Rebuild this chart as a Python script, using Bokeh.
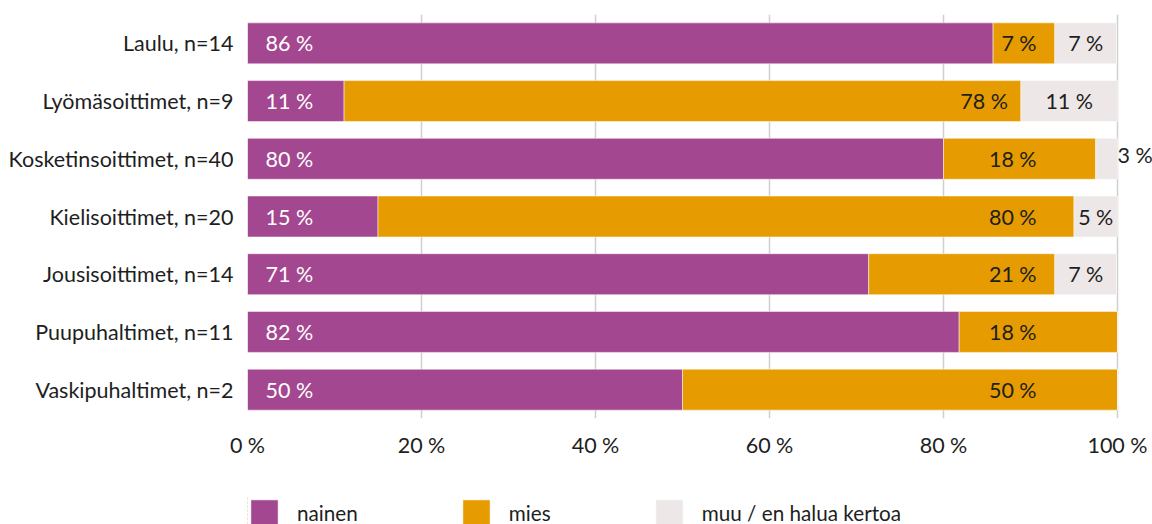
import numpy as np
from bokeh.plotting import figure
from bokeh.layouts import column
from bokeh.models import (ColumnDataSource, FactorRange, Range1d, FixedTicker,
                          LabelSet, Legend, LegendItem)
from bokeh.core.properties import value
from bokeh.embed import file_html
from bokeh.resources import INLINE

# ---------------- data ----------------
categories = ["Laulu, n=14", "Lyömäsoittimet, n=9", "Kosketinsoittimet, n=40",
              "Kielisoittimet, n=20", "Jousisoittimet, n=14", "Puupuhaltimet, n=11",
              "Vaskipuhaltimet, n=2"]
nainen = [85.7, 11.1, 80.0, 15.0, 71.4, 81.8, 50.0]
mies = [7.1, 77.8, 17.5, 80.0, 21.4, 18.2, 50.0]
muu = [7.1, 11.1, 2.5, 5.0, 7.1, 0.0, 0.0]
series_names = ["nainen", "mies", "muu / en halua kertoa"]
xticks = [0, 20, 40, 60, 80, 100]
xtick_labels = ["0 %", "20 %", "40 %", "60 %", "80 %", "100 %"]

# ---------------- styles ----------------
C_PURPLE = "#A44791"
C_ORANGE = "#E69C00"
C_GREY = "#EDE7E7"
C_TEXT = "#1E1E1E"
FONT = "Lato"
FS = "21.5px"
FS_LEG = "20.7px"
W = 1152

def pct(v):
    return f"{int(v + 0.5)} %"

n_arr = np.array(nainen)
m_arr = np.array(mies)
u_arr = np.array(muu)
end_n = n_arr
end_m = n_arr + m_arr
end_u = end_m + u_arr

src = ColumnDataSource(dict(
    cat=categories,
    n0=[0.0] * len(categories), n1=list(end_n),
    m0=list(end_n), m1=list(end_m),
    u0=list(end_m), u1=list(end_u),
))

p = figure(width=W, height=496, output_backend="svg", toolbar_location=None,
           y_range=FactorRange(factors=list(reversed(categories)), range_padding=0),
           x_range=Range1d(0, 100 + 35 / 8.7),
           min_border_left=247, min_border_right=0, min_border_top=14,
           min_border_bottom=78)
p.outline_line_color = None
p.background_fill_color = "white"
p.border_fill_color = "white"

bh = 0.71
bar_styles = [dict(left="n0", right="n1", fill_color=C_PURPLE),
              dict(left="m0", right="m1", fill_color=C_ORANGE),
              dict(left="u0", right="u1", fill_color=C_GREY)]
for st in bar_styles:
    p.hbar(y="cat", height=bh, source=src, line_color="white", line_alpha=0.5,
           line_width=1, **st)

# axes / grid
p.xaxis.ticker = FixedTicker(ticks=xticks)
p.xaxis.major_label_overrides = {t: l for t, l in zip(xticks, xtick_labels)}
p.xaxis.axis_line_color = None
p.xaxis.major_tick_line_color = None
p.xaxis.minor_tick_line_color = None
p.xaxis.major_tick_out = 0
p.xaxis.major_label_standoff = 13
p.xaxis.major_label_text_font = FONT
p.xaxis.major_label_text_font_size = FS
p.xaxis.major_label_text_color = C_TEXT

p.yaxis.axis_line_color = None
p.yaxis.major_tick_line_color = None
p.yaxis.major_tick_out = 0
p.yaxis.major_label_standoff = 14
p.yaxis.major_label_text_font = FONT
p.yaxis.major_label_text_font_size = FS
p.yaxis.major_label_text_color = C_TEXT

p.xgrid.ticker = FixedTicker(ticks=xticks)
p.xgrid.grid_line_color = "#CFCFCF"
p.xgrid.grid_line_width = 1.5
p.ygrid.grid_line_color = None

TF = value(FONT)
TS = value(FS)

# value labels
lab_n = ColumnDataSource(dict(y=categories, x=[0.0] * len(categories),
                              t=[pct(v) for v in nainen]))
p.add_layout(LabelSet(x="x", y="y", text="t", source=lab_n, x_offset=18,
                      text_align="left", text_baseline="middle",
                      text_font=TF, text_font_size=TS, text_color="white"))

m_right = np.minimum(90.7, end_m - 1.5)
lab_m = ColumnDataSource(dict(y=categories, x=list(m_right),
                              t=[pct(v) for v in mies]))
p.add_layout(LabelSet(x="x", y="y", text="t", source=lab_m,
                      text_align="right", text_baseline="middle",
                      text_font=TF, text_font_size=TS, text_color=C_TEXT))

inside = [i for i, v in enumerate(muu) if v >= 4]
outside = [i for i, v in enumerate(muu) if 0 < v < 4]
lab_u_in = ColumnDataSource(dict(y=[categories[i] for i in inside],
                                 x=[end_m[i] + muu[i] / 2 for i in inside],
                                 t=[pct(muu[i]) for i in inside]))
p.add_layout(LabelSet(x="x", y="y", text="t", source=lab_u_in,
                      text_align="center", text_baseline="middle",
                      text_font=TF, text_font_size=TS, text_color=C_TEXT))
lab_u_out = ColumnDataSource(dict(y=[categories[i] for i in outside],
                                  x=[end_u[i] for i in outside],
                                  t=[pct(muu[i]) for i in outside]))
p.add_layout(LabelSet(x="x", y="y", text="t", source=lab_u_out, y_offset=4,
                      text_align="left", text_baseline="middle",
                      text_font=TF, text_font_size=TS, text_color=C_TEXT))

# ---------------- legend strip ----------------
LH = 28
lg = figure(width=W, height=LH, output_backend="svg", toolbar_location=None,
            x_range=Range1d(1000, 1001), y_range=FactorRange(factors=categories),
            min_border=0, min_border_left=0, min_border_right=0,
            min_border_top=0, min_border_bottom=0)
lg.axis.visible = False
lg.grid.visible = False
lg.outline_line_color = None
lg.border_fill_color = "white"
lg.background_fill_color = "white"
leg_renderers = []
for st in bar_styles:
    leg_renderers.append(lg.hbar(y="cat", height=bh, source=src, line_color="white",
                                 line_alpha=0.5, line_width=1, **st))
legend = Legend(items=[LegendItem(label=nm, renderers=[r])
                       for nm, r in zip(series_names, leg_renderers)],
                location=(0, LH - 34), orientation="horizontal",
                glyph_width=34, glyph_height=34, label_standoff=16, spacing=101,
                padding=0, margin=0, border_line_color=None,
                background_fill_alpha=0, label_text_font=FONT,
                label_text_font_size=FS_LEG, label_text_color=C_TEXT,
                label_text_baseline="middle")
lg.add_layout(legend)

layout = column(p, lg, spacing=0)
open("out.html", "w").write(file_html(layout, INLINE))
